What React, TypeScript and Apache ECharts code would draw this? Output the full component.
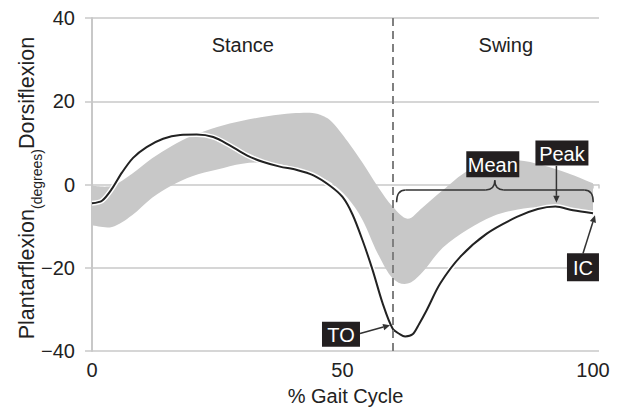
import React, { useEffect, useRef } from 'react';
import * as echarts from 'echarts';

// Patient ankle angle (degrees) over the gait cycle (%)
const gaitX = [0, 2, 4, 6, 8.2, 10.9, 14.2, 17.6, 20.9, 24.2, 27.5, 30.9, 34.2, 37.5, 40.9, 44.2, 47.5, 50, 52, 54, 56, 58, 60, 61.5, 62.5, 64, 65.3, 66.8, 69.5, 73.5, 78.8, 84.8, 89, 92.5, 96, 100];
const ankleAngle = [-4.5, -3.9, -1.0, 2.9, 6.4, 9.0, 11.0, 11.9, 12.0, 11.4, 9.4, 7.0, 5.4, 4.3, 3.5, 2.2, -0.3, -3.0, -7.2, -13.4, -20.5, -28.5, -34.6, -36.0, -36.5, -36.0, -33.5, -30.2, -23.8, -17.4, -11.8, -7.8, -5.9, -5.3, -6.2, -6.9];

// Normative band (lower / upper bound)
const bandX = [0, 4, 8, 12, 16, 20, 25, 30, 35, 40, 44, 46, 48, 51, 54, 57, 60, 63, 66, 70, 75, 80, 85, 90, 95, 100];
const bandLower = [-9.8, -10.2, -7.4, -3.2, -0.2, 2.0, 3.6, 5.0, 5.2, 4.2, 2.6, 1.5, 0.2, -3.2, -8.5, -16.5, -22.5, -23.8, -21, -15.2, -10.8, -7.6, -6.0, -5.4, -6.2, -7.3];
const bandUpper = [-0.3, -0.3, 2.6, 6.3, 9.3, 11.7, 13.8, 15.3, 16.4, 17.1, 17.2, 16.5, 14.9, 10.4, 5.2, -0.4, -5.3, -8.2, -5.5, -1.4, 3.3, 5.3, 5.8, 4.6, 2.7, 0.3];

const xTicks = [0, 50, 100];
const yTicks = [-40, -20, 0, 20, 40];
const toeOff = 60;
const phaseLabels = [
  { text: 'Stance', x: 30.1, y: 33.6 },
  { text: 'Swing', x: 82.6, y: 33.6 },
];

const FONT = '"Liberation Sans", Arial, Helvetica, sans-serif';
const INK = '#222';

// Catmull-Rom spline through pixel points -> SVG path commands (without initial M)
function splineSegs(pts: number[][]): string {
  let d = '';
  const n = pts.length;
  for (let i = 0; i < n - 1; i++) {
    const p0 = pts[Math.max(0, i - 1)];
    const p1 = pts[i];
    const p2 = pts[i + 1];
    const p3 = pts[Math.min(n - 1, i + 2)];
    const c1x = p1[0] + (p2[0] - p0[0]) / 6;
    const c1y = p1[1] + (p2[1] - p0[1]) / 6;
    const c2x = p2[0] - (p3[0] - p1[0]) / 6;
    const c2y = p2[1] - (p3[1] - p1[1]) / 6;
    d += ` C ${c1x} ${c1y} ${c2x} ${c2y} ${p2[0]} ${p2[1]}`;
  }
  return d;
}

export default function App() {
  const ref = useRef<HTMLDivElement>(null);
  useEffect(() => {
    const chart = echarts.init(ref.current!, null, { renderer: 'svg' });
    const lineData = gaitX.map((x, i) => [x, ankleAngle[i]]);
    const option: any = {
      animation: false,
      grid: { left: 92, top: 18, width: 507, height: 333, containLabel: false },
      xAxis: {
        type: 'value',
        min: 0,
        max: 101.2,
        interval: 50,
        axisLine: { show: false },
        axisTick: { show: true, length: 4, lineStyle: { color: '#c8c8c8', width: 1.5 } },
        splitLine: { show: false },
        axisLabel: {
          margin: 9,
          color: INK,
          fontFamily: FONT,
          fontSize: 20,
          formatter: (v: number) => (xTicks.includes(v) ? String(v) : ''),
        },
        name: '% Gait Cycle',
        nameLocation: 'middle',
        nameGap: 35,
        nameTextStyle: { color: INK, fontFamily: FONT, fontSize: 20 },
      },
      yAxis: {
        type: 'value',
        min: -40,
        max: 40,
        interval: 20,
        axisLine: { show: true, lineStyle: { color: '#c8c8c8', width: 2 } },
        axisTick: { show: true, length: 7, lineStyle: { color: '#c8c8c8', width: 1.5 } },
        splitLine: { show: true, lineStyle: { color: '#c8c8c8', width: 1.5 } },
        axisLabel: {
          margin: 17,
          color: INK,
          fontFamily: FONT,
          fontSize: 20,
          formatter: (v: number) => (yTicks.includes(v) ? (v < 0 ? '\u2212' + Math.abs(v) : String(v)) : ''),
        },
      },
      series: [
        {
          type: 'custom',
          silent: true,
          z: 1,
          data: bandX.map((x, i) => [x, bandLower[i], bandUpper[i]]),
          encode: { x: 0, y: [1, 2] },
          renderItem: (params: any, api: any) => {
            if (params.dataIndex !== 0) return null;
            const up = bandX.map((x, i) => api.coord([x, bandUpper[i]]));
            const lo = bandX.map((x, i) => api.coord([x, bandLower[i]])).reverse();
            const d =
              `M ${up[0][0]} ${up[0][1]}` + splineSegs(up) +
              ` L ${lo[0][0]} ${lo[0][1]}` + splineSegs(lo) + ' Z';
            return {
              type: 'path',
              shape: { pathData: d },
              style: { fill: '#c8c8c8', stroke: 'none' },
            };
          },
        },
        {
          type: 'line',
          smooth: 0.3,
          symbol: 'none',
          silent: true,
          lineStyle: { color: '#ffffff', width: 5 },
          data: lineData,
          z: 2,
        },
        {
          type: 'line',
          smooth: 0.3,
          symbol: 'none',
          silent: true,
          lineStyle: { color: INK, width: 2 },
          data: lineData,
          z: 3,
          markLine: {
            silent: true,
            symbol: ['none', 'none'],
            label: { show: false },
            lineStyle: { color: '#808080', type: [8, 5], width: 2 },
            data: [{ xAxis: toeOff }],
          },
        },
      ],
    };
    chart.setOption(option);

    const P = (x: number, y: number) => chart.convertToPixel({ gridIndex: 0 } as any, [x, y]) as number[];
    const g: any[] = [];

    // phase labels
    phaseLabels.forEach((l) => {
      const p = P(l.x, l.y);
      g.push({
        type: 'text', x: p[0], y: p[1], z: 10,
        style: { text: l.text, fill: INK, font: `20px ${FONT}`, align: 'center', verticalAlign: 'middle' },
      });
    });

    // y axis title
    g.push({
      type: 'text', x: 27, y: 188, rotation: Math.PI / 2, z: 10,
      style: {
        text: '{a|Plantarflexion}{b|(degrees)}{a|Dorsiflexion}',
        align: 'center', verticalAlign: 'middle',
        rich: {
          a: { fontSize: 21.5, fontFamily: FONT, fill: INK, color: INK, lineHeight: 34 },
          b: { fontSize: 14, fontFamily: FONT, fill: INK, color: INK, verticalAlign: 'bottom' },
        },
      },
    });

    const box = (text: string, cx: number, cy: number, w: number, h: number) => {
      const p = P(cx, cy);
      g.push({
        type: 'rect', z: 20,
        shape: { x: p[0] - w / 2, y: p[1] - h / 2, width: w, height: h },
        style: { fill: '#231f20' },
      });
      g.push({
        type: 'text', x: p[0], y: p[1] + 1, z: 21,
        style: { text, fill: '#fff', font: `20px ${FONT}`, align: 'center', verticalAlign: 'middle' },
      });
    };

    const arrow = (x1: number, y1: number, x2: number, y2: number) => {
      const a = P(x1, y1);
      const b = P(x2, y2);
      const dx = b[0] - a[0];
      const dy = b[1] - a[1];
      const len = Math.hypot(dx, dy);
      const ux = dx / len, uy = dy / len;
      const hl = 7, hw = 3.2;
      const bx = b[0] - ux * hl, by = b[1] - uy * hl;
      g.push({
        type: 'line', z: 19,
        shape: { x1: a[0], y1: a[1], x2: bx, y2: by },
        style: { stroke: '#333', lineWidth: 1.5 },
      });
      g.push({
        type: 'polygon', z: 19,
        shape: { points: [[b[0], b[1]], [bx - uy * hw, by + ux * hw], [bx + uy * hw, by - ux * hw]] },
        style: { fill: '#333' },
      });
    };

    // brace for "Mean"
    const L = P(60.8, -4.25), R = P(100.05, -4.25), M = P(80.4, 1), mid = P(80.4, -1.3);
    const yB = L[1], yM = mid[1], yT = M[1];
    const r = 9;
    const bs = { stroke: '#333', lineWidth: 1.5, fill: 'none' };
    g.push({ type: 'bezierCurve', z: 18, shape: { x1: L[0], y1: yB, x2: L[0] + r, y2: yM, cpx1: L[0], cpy1: yM }, style: bs });
    g.push({ type: 'line', z: 18, shape: { x1: L[0] + r, y1: yM, x2: M[0] - r, y2: yM }, style: bs });
    g.push({ type: 'bezierCurve', z: 18, shape: { x1: M[0] - r, y1: yM, x2: M[0], y2: yT, cpx1: M[0], cpy1: yM }, style: bs });
    g.push({ type: 'bezierCurve', z: 18, shape: { x1: M[0], y1: yT, x2: M[0] + r, y2: yM, cpx1: M[0], cpy1: yM }, style: bs });
    g.push({ type: 'line', z: 18, shape: { x1: M[0] + r, y1: yM, x2: R[0] - r, y2: yM }, style: bs });
    g.push({ type: 'bezierCurve', z: 18, shape: { x1: R[0] - r, y1: yM, x2: R[0], y2: yB, cpx1: R[0], cpy1: yM }, style: bs });

    // arrows
    arrow(92.7, 4.5, 92.7, -4.4); // Peak
    arrow(98, -16.6, 100.4, -7.4); // IC
    arrow(53.5, -35.8, 59.5, -33.8); // TO

    // labels
    box('Mean', 80, 4.85, 53, 26);
    box('Peak', 93.8, 7.56, 53, 25);
    box('IC', 98, -19.9, 32, 28);
    box('TO', 49.7, -36, 38, 25);

    chart.setOption({ graphic: { elements: g } });
    return () => chart.dispose();
  }, []);
  return <div ref={ref} style={{ position: 'absolute', left: 0, top: 0, width: 618, height: 413 }} />;
}
